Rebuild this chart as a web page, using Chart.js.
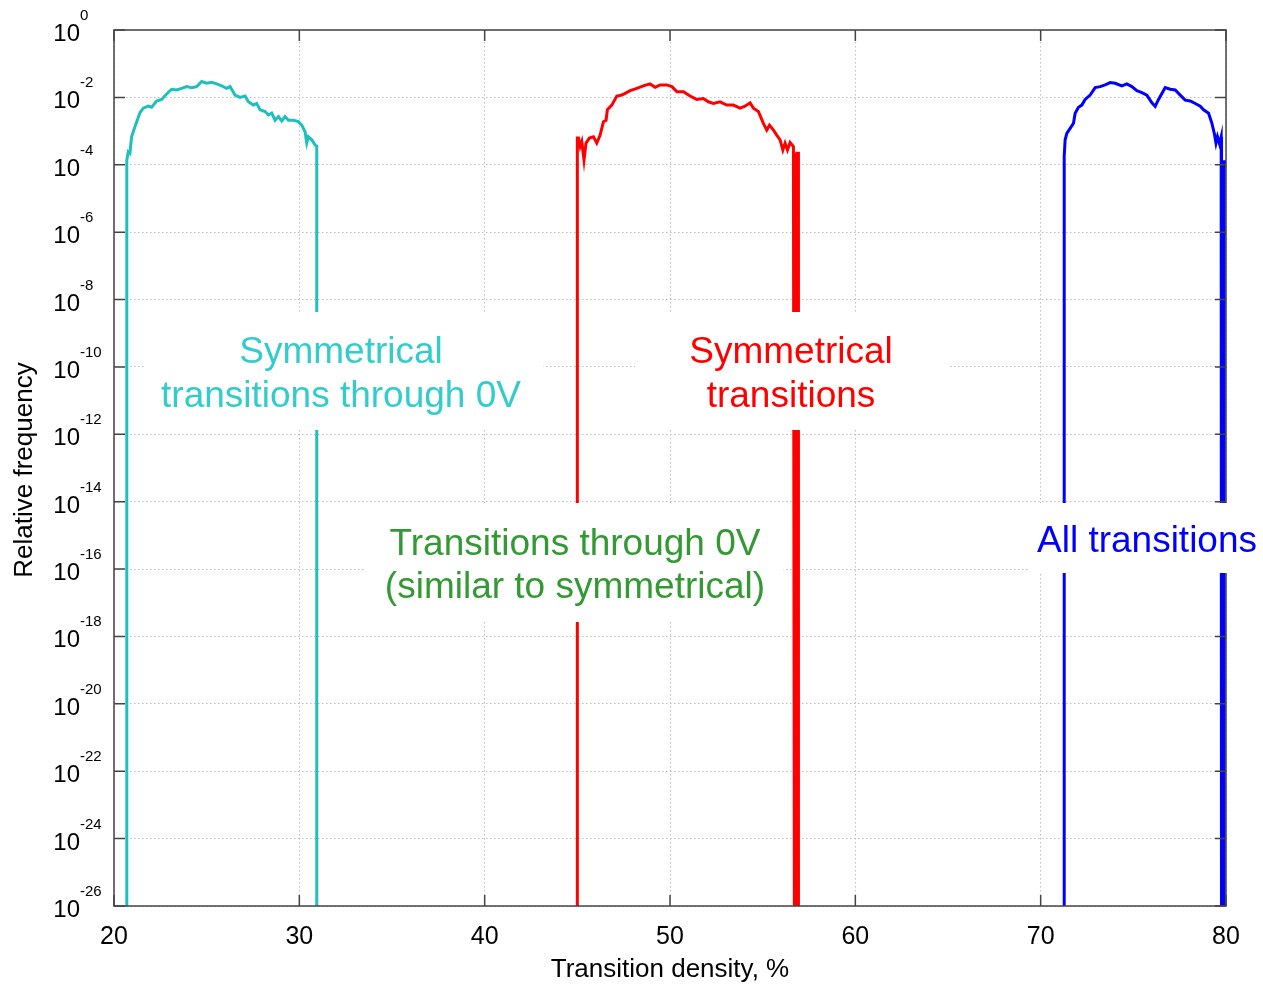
<!DOCTYPE html>
<html>
<head>
<meta charset="utf-8">
<script src="https://cdn.jsdelivr.net/npm/chart.js@4.4.0/dist/chart.umd.min.js"></script>
<style>
  html, body { margin: 0; padding: 0; background: #fff; }
  #wrap { width: 1263px; height: 985px; }
</style>
</head>
<body>
<div id="wrap"><canvas id="myChart" width="1263" height="985"></canvas></div>
<script>
// axis ticks
const xTicks = [20, 30, 40, 50, 60, 70, 80];
const yTickPowers = [0, -2, -4, -6, -8, -10, -12, -14, -16, -18, -20, -22, -24, -26];

// empty bins sit far below the axis so the trace falls off the bottom
const ZERO = 1e-30;

// Symmetrical transitions through 0V
const cyanX = [20.69, 20.69, 20.77, 20.86, 20.95, 21.13, 21.40, 21.58, 21.85, 22.03, 22.30, 22.57, 22.84, 23.11, 23.38, 23.65, 23.92, 24.19, 24.46, 24.73, 25.00, 25.27, 25.54, 25.81, 26.08, 26.26, 26.53, 26.80, 27.07, 27.25, 27.52, 27.70, 27.88, 28.15, 28.33, 28.51, 28.69, 28.87, 29.05, 29.23, 29.41, 29.68, 29.95, 30.13, 30.31, 30.40, 30.49, 30.67, 30.85, 30.94, 30.94];
const cyanY = [ZERO, 1.38e-4, 2.45e-4, 2.2e-4, 6.8e-4, 1.35e-3, 3.5e-3, 4.8e-3, 5.5e-3, 5.1e-3, 7.8e-3, 8.7e-3, 1.26e-2, 1.74e-2, 1.66e-2, 1.86e-2, 2.09e-2, 1.95e-2, 2.09e-2, 2.95e-2, 2.63e-2, 2.82e-2, 2.51e-2, 2.19e-2, 1.86e-2, 2.09e-2, 1.17e-2, 1.0e-2, 1.10e-2, 7.4e-3, 5.9e-3, 6.6e-3, 4.3e-3, 3.8e-3, 3.0e-3, 3.4e-3, 2.1e-3, 2.7e-3, 2.0e-3, 2.7e-3, 2.1e-3, 2.1e-3, 1.9e-3, 1.5e-3, 9.5e-4, 4.4e-4, 6.8e-4, 5.5e-4, 3.9e-4, 3.6e-4, ZERO];

// Symmetrical transitions
const redX = [45.00, 45.00, 45.06, 45.15, 45.24, 45.36, 45.47, 45.65, 45.87, 46.05, 46.23, 46.41, 46.55, 46.62, 46.86, 47.13, 47.40, 47.58, 47.85, 48.21, 48.56, 48.92, 49.20, 49.47, 49.83, 50.10, 50.37, 50.73, 51.08, 51.44, 51.80, 52.07, 52.34, 52.70, 53.06, 53.42, 53.78, 54.05, 54.32, 54.50, 54.77, 55.04, 55.22, 55.37, 55.58, 55.76, 55.94, 56.09, 56.21, 56.34, 56.48, 56.66, 56.72, 56.76, 56.80, 56.84, 56.93, 56.93];
const redY = [ZERO, 6.2e-4, 6.2e-4, 3.5e-4, 4.9e-4, 1.38e-4, 4.4e-4, 6.2e-4, 6.8e-4, 4.4e-4, 7.6e-4, 1.9e-3, 2.1e-3, 4.3e-3, 5.9e-3, 1.10e-2, 1.17e-2, 1.32e-2, 1.58e-2, 1.86e-2, 2.19e-2, 2.51e-2, 2.0e-2, 2.34e-2, 2.34e-2, 2.09e-2, 1.48e-2, 1.48e-2, 1.10e-2, 8.7e-3, 9.3e-3, 7.4e-3, 6.6e-3, 7.4e-3, 5.9e-3, 5.9e-3, 4.8e-3, 5.5e-3, 6.9e-3, 4.8e-3, 3.8e-3, 1.7e-3, 1.07e-3, 1.5e-3, 1.07e-3, 7.6e-4, 5.5e-4, 2.75e-4, 4.4e-4, 2.75e-4, 4.6e-4, 3.5e-4, ZERO, 2.2e-4, ZERO, 2.2e-4, 2.2e-4, ZERO];

// All transitions
const blueX = [71.27, 71.27, 71.32, 71.41, 71.59, 71.77, 71.86, 72.04, 72.22, 72.40, 72.67, 72.94, 73.21, 73.48, 73.75, 74.02, 74.38, 74.65, 74.92, 75.19, 75.46, 75.73, 76.00, 76.18, 76.36, 76.72, 76.99, 77.26, 77.53, 77.80, 78.07, 78.34, 78.61, 78.79, 79.06, 79.24, 79.37, 79.46, 79.54, 79.65, 79.74, 79.76, 79.90, 79.90, 80.00];
const blueY = [ZERO, 1.74e-4, 5.5e-4, 8.5e-4, 1.2e-3, 1.7e-3, 3.4e-3, 5.1e-3, 5.9e-3, 8.7e-3, 1.17e-2, 1.95e-2, 2.09e-2, 2.34e-2, 2.75e-2, 2.63e-2, 2.19e-2, 2.51e-2, 2.09e-2, 1.58e-2, 1.38e-2, 1.17e-2, 6.9e-3, 5.4e-3, 8.7e-3, 1.95e-2, 1.74e-2, 1.66e-2, 1.17e-2, 8.3e-3, 7.8e-3, 6.6e-3, 5.5e-3, 4.3e-3, 3.4e-3, 1.7e-3, 8.5e-4, 4.4e-4, 6.8e-4, 4.2e-4, 6.8e-4, ZERO, ZERO, 1.23e-4, 1.23e-4];

const FONT = 'Arial, "Liberation Sans", sans-serif';

function pts(xs, ys) {
  return xs.map((x, i) => ({ x: x, y: ys[i] }));
}

// text notes on white boxes (pixel layout)
const notes = [
  { box: [145, 312, 398, 118], color: '#33cccc', x: 341, lines: ['Symmetrical', 'transitions through 0V'], base: [363, 407] },
  { box: [635, 312, 313, 118], color: '#ff0000', x: 791, lines: ['Symmetrical', 'transitions'], base: [363, 407] },
  { box: [366, 503, 417, 119], color: '#339933', x: 575, lines: ['Transitions through 0V', '(similar to symmetrical)'], base: [555, 598] },
  { box: [1030, 503, 233, 70], color: '#0000ff', x: 1147, lines: ['All transitions'], base: [552] }
];

const decor = {
  id: 'decor',
  afterDatasetsDraw(chart) {
    const { ctx, chartArea: a, scales: { x, y } } = chart;
    ctx.save();

    // frame + inward ticks
    ctx.strokeStyle = '#444';
    ctx.lineWidth = 1.5;
    ctx.strokeRect(a.left, a.top, a.right - a.left, a.bottom - a.top);
    ctx.beginPath();
    xTicks.forEach(v => {
      const px = x.getPixelForValue(v);
      ctx.moveTo(px, a.bottom); ctx.lineTo(px, a.bottom - 11);
      ctx.moveTo(px, a.top); ctx.lineTo(px, a.top + 11);
    });
    yTickPowers.forEach(p => {
      const py = y.getPixelForValue(Math.pow(10, p));
      ctx.moveTo(a.left, py); ctx.lineTo(a.left + 11, py);
      ctx.moveTo(a.right, py); ctx.lineTo(a.right - 11, py);
    });
    ctx.stroke();

    // y tick labels 10^p
    ctx.fillStyle = '#000';
    ctx.textBaseline = 'alphabetic';
    yTickPowers.forEach(p => {
      const py = y.getPixelForValue(Math.pow(10, p));
      ctx.font = '24px ' + FONT;
      ctx.textAlign = 'right';
      ctx.fillText('10', 80, py + 11);
      ctx.font = '15px ' + FONT;
      ctx.textAlign = 'left';
      ctx.fillText(String(p), 80, py - 10);
    });

    // y title
    ctx.save();
    ctx.translate(25, (a.top + a.bottom) / 2 + 2);
    ctx.rotate(-Math.PI / 2);
    ctx.font = '26px ' + FONT;
    ctx.textAlign = 'center';
    ctx.textBaseline = 'middle';
    ctx.fillText('Relative frequency', 0, 0);
    ctx.restore();

    // labels
    notes.forEach(n => {
      ctx.fillStyle = '#fff';
      ctx.fillRect(n.box[0], n.box[1], n.box[2], n.box[3]);
      ctx.fillStyle = n.color;
      ctx.font = '37px ' + FONT;
      ctx.textAlign = 'center';
      ctx.textBaseline = 'alphabetic';
      n.lines.forEach((t, i) => ctx.fillText(t, n.x, n.base[i]));
    });

    ctx.restore();
  }
};

new Chart(document.getElementById('myChart'), {
  type: 'line',
  data: {
    datasets: [
      { label: 'Symmetrical transitions through 0V', data: pts(cyanX, cyanY), borderColor: '#1fbfbf', borderWidth: 3, pointRadius: 0, tension: 0 },
      { label: 'Symmetrical transitions', data: pts(redX, redY), borderColor: '#ff0000', borderWidth: 3, pointRadius: 0, tension: 0 },
      { label: 'All transitions', data: pts(blueX, blueY), borderColor: '#0000ff', borderWidth: 3, pointRadius: 0, tension: 0 }
    ]
  },
  options: {
    responsive: false,
    animation: false,
    layout: { padding: { top: 30, right: 37, left: 0, bottom: 0 } },
    plugins: { legend: { display: false }, tooltip: { enabled: false } },
    scales: {
      x: {
        type: 'linear',
        min: 20,
        max: 80,
        afterBuildTicks: s => { s.ticks = xTicks.map(v => ({ value: v })); },
        afterFit: s => { s.height = 79; },
        ticks: { color: '#000', font: { size: 25, family: FONT }, padding: 16, maxRotation: 0 },
        grid: { color: '#bdbdbd', lineWidth: 1, drawTicks: false },
        border: { display: false, dash: [1.5, 2.5] },
        title: { display: true, text: 'Transition density, %', color: '#000', font: { size: 26, family: FONT }, padding: { top: 0, bottom: 0 } }
      },
      y: {
        type: 'logarithmic',
        min: 1e-26,
        max: 1,
        afterBuildTicks: s => { s.ticks = yTickPowers.map(p => ({ value: Math.pow(10, p) })); },
        afterFit: s => { s.width = 114; },
        ticks: { display: false },
        grid: { color: '#bdbdbd', lineWidth: 1, drawTicks: false },
        border: { display: false, dash: [1.5, 2.5] }
      }
    }
  },
  plugins: [decor]
});
</script>
</body>
</html>
